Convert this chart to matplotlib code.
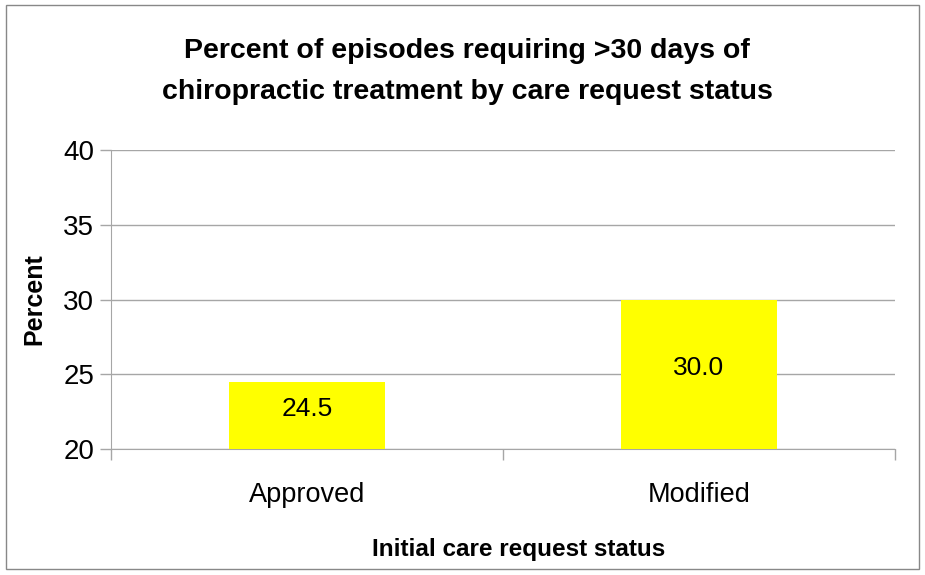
import matplotlib.pyplot as plt
from matplotlib.patches import Rectangle

categories = ["Approved", "Modified"]
percents = [24.5, 30.0]
yticks = [20, 25, 30, 35, 40]

plt.rcParams['font.family'] = ['Liberation Sans', 'DejaVu Sans']
gray = '#a6a6a6'

fig = plt.figure(figsize=(9.25, 5.75), dpi=100)
ax = fig.add_axes([0.12, 0.219, 0.8476, 0.52])

x = range(len(categories))
ax.bar(x, [p - yticks[0] for p in percents], bottom=yticks[0], width=0.4,
       color='#ffff00', zorder=3)
for i, p in enumerate(percents):
    ax.text(i, (p + yticks[0]) / 2 + 0.4, f"{p:.1f}", ha='center', va='center',
            fontsize=19, zorder=4)

ax.set_xlim(-0.5, len(categories) - 0.5)
ax.set_ylim(yticks[0], yticks[-1])
ax.set_yticks(yticks)
ax.set_xticks(list(x))
ax.set_xticklabels(categories, fontsize=19.5)
ax.tick_params(axis='x', which='major', length=0, pad=24)
ax.set_xticks([-0.5, 0.5, 1.5], minor=True)
ax.tick_params(axis='x', which='minor', length=8, color=gray, width=1)
ax.tick_params(axis='y', labelsize=20, length=8, color=gray, width=1, pad=4)
ax.grid(axis='y', color=gray, linewidth=1, zorder=0)
for s in ['top', 'right']:
    ax.spines[s].set_visible(False)
for s in ['left', 'bottom']:
    ax.spines[s].set_color(gray)

ax.set_ylabel("Percent", fontsize=18, fontweight='bold', labelpad=12)
ax.set_xlabel("Initial care request status", fontsize=17.5, fontweight='bold', labelpad=21)
ax.xaxis.label.set_x(0.52)

fig.text(0.505, 0.876, "Percent of episodes requiring >30 days of\nchiropractic treatment by care request status",
         ha='center', va='center', fontsize=20.5, fontweight='bold', linespacing=1.75)

fig.patches.append(Rectangle((0.006, 0.01), 0.988, 0.982, transform=fig.transFigure,
                             fill=False, edgecolor='#888888', linewidth=1))

fig.savefig("out.png", dpi=100)
